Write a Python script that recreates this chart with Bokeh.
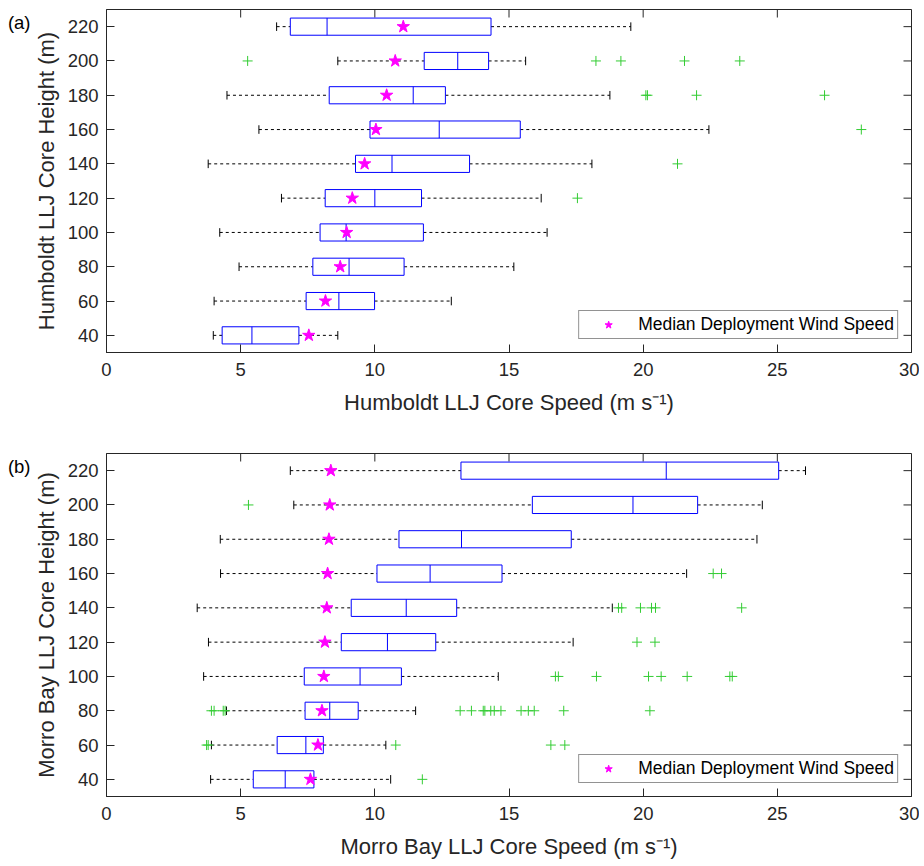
import math
from bokeh.plotting import figure
from bokeh.layouts import column
from bokeh.models import LinearAxis, FixedTicker, Range1d
from bokeh.embed import file_html
from bokeh.resources import INLINE

# ---------------- data ----------------
heights = [40, 60, 80, 100, 120, 140, 160, 180, 200, 220]
x_ticks = [0, 5, 10, 15, 20, 25, 30]

# Humboldt (panel a)
hum_wlo = [3.98, 4.01, 4.94, 4.22, 6.52, 3.79, 5.68, 4.49, 8.62, 6.34]
hum_q1 = [4.31, 7.44, 7.69, 7.96, 8.15, 9.28, 9.82, 8.30, 11.84, 6.85]
hum_med = [5.42, 8.66, 9.04, 8.93, 10.00, 10.64, 12.40, 11.43, 13.09, 8.22]
hum_q3 = [7.17, 9.99, 11.09, 11.81, 11.74, 13.53, 15.42, 12.63, 14.24, 14.33]
hum_whi = [8.62, 12.85, 15.18, 16.42, 16.20, 18.09, 22.45, 18.76, 15.62, 19.54]
hum_star = [7.54, 8.16, 8.71, 8.95, 9.16, 9.62, 10.04, 10.44, 10.76, 11.06]
hum_out = [
    [],
    [],
    [],
    [],
    [17.55],
    [21.28],
    [28.13],
    [20.10, 20.16, 21.99, 26.76],
    [5.26, 18.24, 19.17, 21.54, 23.60],
    [],
]

# Morro Bay (panel b)
mb_wlo = [3.88, 3.91, 4.47, 3.62, 3.80, 3.38, 4.25, 4.24, 6.98, 6.85]
mb_q1 = [5.47, 6.36, 7.40, 7.37, 8.75, 9.12, 10.08, 10.90, 15.87, 13.21]
mb_med = [6.66, 7.43, 8.32, 9.45, 10.47, 11.17, 12.06, 13.23, 19.62, 20.86]
mb_q3 = [7.73, 8.08, 9.38, 10.99, 12.27, 13.05, 14.74, 17.32, 22.03, 25.05]
mb_whi = [10.59, 10.41, 11.52, 14.60, 17.39, 18.85, 21.62, 24.24, 24.44, 26.05]
mb_star = [7.60, 7.88, 8.03, 8.10, 8.14, 8.21, 8.24, 8.29, 8.32, 8.36]
mb_out = [
    [11.77],
    [3.73, 3.79, 10.78, 16.56, 17.08],
    [3.91, 4.01, 4.35, 4.42, 13.18, 13.60, 14.04, 14.10, 14.32, 14.45, 14.70,
     15.45, 15.72, 15.94, 17.04, 20.25],
    [16.73, 16.84, 18.26, 20.20, 20.67, 21.64, 23.23, 23.32],
    [19.77, 20.44],
    [19.08, 19.20, 19.90, 20.31, 20.46, 23.67],
    [22.61, 22.92],
    [],
    [5.29],
    [],
]

FONT = "Liberation Sans"
AX = "#262626"
BLUE = "#0000ff"
GREEN = "#33cc33"
MAGENTA = "#ff00ff"
BOX_H = 10.0
CAP_H = 5.0
X_MIN, X_MAX = 0, 30
Y_MIN, Y_MAX = 30, 230


def style_axis(ax):
    ax.major_tick_in = 8
    ax.major_tick_out = 0
    ax.minor_tick_line_color = None
    ax.axis_line_color = AX
    ax.major_tick_line_color = AX
    ax.major_label_text_color = AX
    ax.major_label_text_font = FONT
    ax.major_label_text_font_size = "18.5px"
    ax.axis_label_text_font = FONT
    ax.axis_label_text_font_style = "normal"
    ax.axis_label_text_font_size = "22px"
    ax.axis_label_text_color = AX


def make_panel(tag, xlabel, ylabel, wlo, q1, med, q3, whi, star, outs,
               border_top, border_bottom):
    p = figure(frame_width=805, frame_height=343,
               x_range=Range1d(X_MIN, X_MAX), y_range=Range1d(Y_MIN, Y_MAX),
               output_backend="svg", toolbar_location=None,
               min_border_left=106, min_border_right=8,
               min_border_top=border_top, min_border_bottom=border_bottom)
    p.grid.visible = False
    p.outline_line_color = AX
    p.outline_line_width = 1
    p.background_fill_color = "white"

    p.xaxis.ticker = FixedTicker(ticks=x_ticks)
    p.yaxis.ticker = FixedTicker(ticks=heights)
    p.xaxis.axis_label = xlabel
    p.yaxis.axis_label = ylabel
    style_axis(p.xaxis[0])
    style_axis(p.yaxis[0])
    p.xaxis.major_label_standoff = 10
    p.xaxis.axis_label_standoff = 11
    p.yaxis.major_label_standoff = 8
    p.yaxis.axis_label_standoff = 6

    # panel tag "(a)"/"(b)" shown at the upper left, outside the frame
    tag_axis = LinearAxis(ticker=FixedTicker(ticks=[222.5]),
                          major_label_overrides={222.5: tag})
    tag_axis.axis_line_color = None
    tag_axis.major_tick_line_color = None
    tag_axis.minor_tick_line_color = None
    tag_axis.major_tick_in = 0
    tag_axis.major_tick_out = 0
    tag_axis.major_label_standoff = 0
    tag_axis.major_label_text_font = FONT
    tag_axis.major_label_text_font_size = "18.5px"
    tag_axis.major_label_text_color = "black"
    p.add_layout(tag_axis, "left")

    # inward ticks on the top and right edges of the box
    p.ray(x=x_ticks, y=[Y_MAX] * len(x_ticks), length=8, length_units="screen",
          angle=-math.pi / 2, line_color=AX, line_width=1)
    p.ray(x=[X_MAX] * len(heights), y=heights, length=8, length_units="screen",
          angle=math.pi, line_color=AX, line_width=1)

    lo = [h - BOX_H / 2 for h in heights]
    hi = [h + BOX_H / 2 for h in heights]
    clo = [h - CAP_H / 2 for h in heights]
    chi = [h + CAP_H / 2 for h in heights]

    # whiskers
    p.segment(x0=wlo, y0=heights, x1=q1, y1=heights, line_color="black",
              line_width=1, line_dash="3 3")
    p.segment(x0=q3, y0=heights, x1=whi, y1=heights, line_color="black",
              line_width=1, line_dash="3 3")
    p.segment(x0=wlo, y0=clo, x1=wlo, y1=chi, line_color="black", line_width=1)
    p.segment(x0=whi, y0=clo, x1=whi, y1=chi, line_color="black", line_width=1)
    # boxes
    p.hbar(y=heights, left=q1, right=q3, height=BOX_H, fill_color="white",
           line_color=BLUE, line_width=1)
    p.segment(x0=med, y0=lo, x1=med, y1=hi, line_color=BLUE, line_width=1)
    # outliers
    ox, oy = [], []
    for h, vals in zip(heights, outs):
        for v in vals:
            ox.append(v)
            oy.append(h)
    p.scatter(ox, oy, marker="cross", size=10, line_color=GREEN, line_width=1)
    # deployment median
    p.scatter(star, heights, marker="star", size=13, fill_color=MAGENTA,
              line_color=MAGENTA, legend_label="Median Deployment Wind Speed")

    lg = p.legend[0]
    lg.location = "bottom_right"
    lg.margin = 13
    lg.padding = 3
    lg.spacing = 0
    lg.glyph_width = 52
    lg.glyph_height = 19
    lg.label_standoff = 4
    lg.label_height = 19
    lg.label_text_font = FONT
    lg.label_text_font_size = "17.5px"
    lg.label_text_color = "black"
    lg.border_line_color = AX
    lg.border_line_width = 1
    lg.background_fill_alpha = 1.0
    return p


pa = make_panel("(a)", "Humboldt LLJ Core Speed (m s\u207b\u00b9)",
                "Humboldt LLJ Core Height (m)",
                hum_wlo, hum_q1, hum_med, hum_q3, hum_whi, hum_star, hum_out,
                9, 101)
pb = make_panel("(b)", "Morro Bay LLJ Core Speed (m s\u207b\u00b9)",
                "Morro Bay LLJ Core Height (m)",
                mb_wlo, mb_q1, mb_med, mb_q3, mb_whi, mb_star, mb_out,
                0, 66)

layout = column(pa, pb, spacing=0)
open("out.html", "w").write(file_html(layout, INLINE))
